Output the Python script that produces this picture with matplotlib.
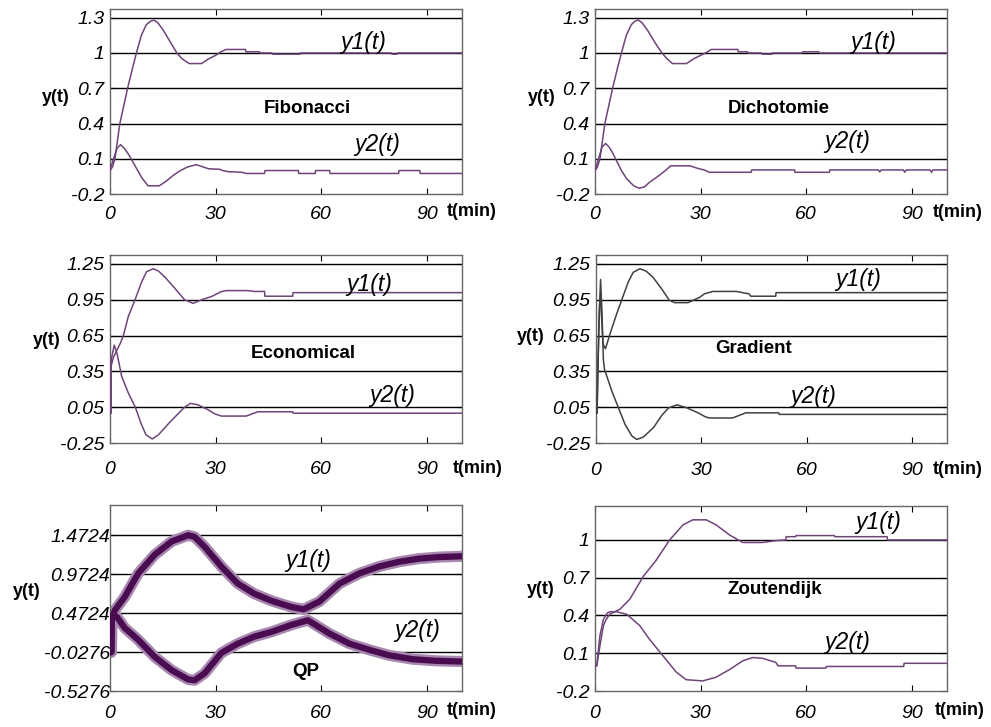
import matplotlib
matplotlib.use("Agg")
import matplotlib.pyplot as plt

plt.rcParams['font.family'] = ['Liberation Sans', 'DejaVu Sans']

# ---------------- data ----------------
# Fibonacci
fib_t1 = [0, 0.7, 1.4, 2.1, 2.8, 3.9, 5, 6.3, 7.5, 8.9, 10.3, 11.5, 12.5, 13.5, 15, 17, 19, 20.5,
          22.5, 26, 28, 30, 31.5, 33, 38.5, 38.6, 42.5, 42.6, 46, 46.1, 54, 54.1, 80, 80.1, 81.5, 81.6, 100]
fib_y1 = [0.0, 0.03, 0.1, 0.25, 0.4, 0.55, 0.7, 0.86, 1.0, 1.15, 1.24, 1.27, 1.28, 1.26, 1.2, 1.1, 1.0, 0.95,
          0.91, 0.91, 0.95, 0.98, 1.01, 1.03, 1.03, 1.01, 1.01, 1.0, 1.0, 0.99, 0.99, 1.0, 1.0, 0.99, 0.99, 1.0, 1.0]
fib_t2 = [0, 1, 2, 3, 4, 5, 6, 7.5, 9, 10.8, 14, 16, 18, 20, 22, 24.5, 26.5, 28, 31.3, 32, 33.7, 37.5,
          38.7, 43.9, 44, 53.5, 53.6, 58.3, 58.4, 62.4, 62.5, 82, 82.1, 88, 88.1, 100]
fib_y2 = [0.0, 0.1, 0.19, 0.22, 0.19, 0.15, 0.1, 0.02, -0.06, -0.13, -0.13, -0.09, -0.04, 0.0, 0.03, 0.05,
          0.03, 0.015, 0.01, 0.0, -0.01, -0.015, -0.025, -0.025, 0.0, 0.0, -0.025, -0.025, 0.0, 0.0, -0.025,
          -0.025, 0.0, 0.0, -0.025, -0.025]

# Dichotomie
dic_t1 = [0, 0.7, 1.4, 2.1, 2.8, 3.9, 5, 6.3, 7.5, 8.9, 10.3, 11.3, 12.3, 13.3, 15, 17, 19, 20.5, 22, 26,
          28, 30, 32, 33, 40.6, 40.7, 43.4, 43.5, 47.3, 47.4, 50.3, 50.4, 58.9, 59, 63.6, 63.7, 100]
dic_y1 = [0.0, 0.03, 0.1, 0.25, 0.4, 0.55, 0.7, 0.86, 1.0, 1.15, 1.24, 1.27, 1.28, 1.26, 1.19, 1.09, 1.0,
          0.95, 0.91, 0.91, 0.95, 0.98, 1.01, 1.03, 1.03, 1.01, 1.01, 1.0, 1.0, 0.99, 0.99, 1.0, 1.0, 1.01,
          1.01, 1.0, 1.0]
dic_t2 = [0, 1, 2, 3, 4, 5, 6, 7.5, 9, 11, 12.5, 14, 15.5, 18.3, 20, 21.5, 27, 29, 31, 32.5, 44.4, 44.5,
          56.7, 56.8, 66.6, 66.7, 80.5, 80.9, 81.3, 87.6, 88, 88.4, 95.2, 95.6, 96, 100]
dic_y2 = [0.0, 0.1, 0.2, 0.23, 0.2, 0.15, 0.09, 0.0, -0.07, -0.13, -0.15, -0.14, -0.1, -0.04, 0.0, 0.04,
          0.04, 0.02, 0.005, -0.015, -0.015, 0.005, 0.005, -0.015, -0.015, 0.005, 0.005, -0.012, 0.005,
          0.005, -0.015, 0.005, 0.005, -0.015, 0.005, 0.005]

# Economical
eco_t1 = [0, 0.3, 0.35, 1, 2, 3, 3.8, 5.2, 7.1, 9, 10.4, 12.3, 13.8, 15.6, 18.4, 21.2, 23.6, 26, 28.8,
          31.6, 33, 39.2, 41, 43.9, 44, 51.9, 52, 100]
eco_y1 = [0.0, 0.0, 0.40, 0.47, 0.53, 0.59, 0.65, 0.81, 0.95, 1.10, 1.186, 1.21, 1.19, 1.14, 1.047, 0.95,
          0.92, 0.95, 0.977, 1.018, 1.027, 1.027, 1.02, 1.02, 0.98, 0.98, 1.01, 1.01]
eco_t2 = [0, 0.3, 0.35, 1.2, 2, 3.3, 5.2, 7.2, 8.8, 10.2, 12, 13.8, 16.7, 19.5, 21.2, 22.9, 25, 27.8,
          29.7, 31.6, 38.7, 42, 51.9, 52, 100]
eco_y2 = [0.0, 0.0, 0.45, 0.57, 0.50, 0.31, 0.17, 0.05, -0.085, -0.18, -0.216, -0.18, -0.085, 0.0, 0.05,
          0.083, 0.07, 0.03, -0.005, -0.024, -0.024, 0.012, 0.012, 0.0, 0.0]

# Gradient
gra_t1 = [0, 0.3, 0.5, 1.0, 1.3, 1.6, 2.0, 2.7, 4.0, 5.9, 7.3, 9.2, 10.6, 12.5, 14.3, 16.2, 18.5, 20.9,
          22.4, 26.2, 29.5, 30.9, 33.3, 39.9, 43.6, 44.1, 51.2, 51.3, 100]
gra_y1 = [0.0, 0.0, 0.33, 0.9, 1.0, 0.8, 0.58, 0.54, 0.665, 0.833, 0.946, 1.10, 1.18, 1.21, 1.19, 1.14,
          1.05, 0.946, 0.926, 0.926, 0.97, 1.0, 1.02, 1.02, 1.0, 0.98, 0.98, 1.01, 1.01]
gra_t2 = [0, 0.3, 0.8, 1.3, 1.7, 2.1, 2.4, 4.5, 6.4, 8.3, 10.2, 11.6, 13.5, 16.4, 18.7, 20.7, 23.1, 25.9,
          29.3, 31.1, 32.3, 38.9, 42.7, 52.1, 52.2, 100]
gra_y2 = [0.0, 0.0, 0.7, 1.12, 0.85, 0.45, 0.37, 0.186, 0.045, -0.095, -0.19, -0.22, -0.2, -0.12, -0.02,
          0.045, 0.07, 0.045, 0.0, -0.03, -0.04, -0.04, 0.003, 0.003, -0.01, -0.01]

# QP
qp_t1 = [0, 0.4, 0.5, 1.0, 1.4, 4.2, 8, 12.7, 17.5, 22.2, 24, 26.9, 31.6, 36.3, 41, 45.8, 51.5, 55, 59.5,
         65.2, 70.8, 76.5, 82.2, 87.8, 93.5, 100]
qp_y1 = [-0.03, -0.03, 0.40, 0.47, 0.51, 0.68, 0.98, 1.22, 1.39, 1.47, 1.45, 1.32, 1.07, 0.85, 0.72, 0.63,
         0.55, 0.52, 0.62, 0.85, 0.98, 1.07, 1.13, 1.17, 1.19, 1.2]
qp_t2 = [0, 0.4, 0.5, 1.2, 2, 4.2, 8, 12.7, 17.5, 22.2, 24, 26.9, 31.6, 36.3, 41, 45.8, 51.5, 56.2, 62.3,
         68, 73.7, 79.3, 86, 92.5, 100]
qp_y2 = [-0.03, -0.03, 0.40, 0.44, 0.42, 0.28, 0.13, -0.09, -0.26, -0.38, -0.39, -0.30, -0.04, 0.08, 0.17,
         0.23, 0.32, 0.38, 0.21, 0.08, 0.0, -0.07, -0.12, -0.14, -0.15]

# Zoutendijk
zou_t1 = [0, 0.5, 1.4, 2.4, 3.2, 4.2, 7.1, 9.9, 13.7, 17.4, 21.2, 25, 27.8, 31.6, 34.4, 38.2, 42, 47.6,
          51.4, 54.2, 54.3, 57, 57.1, 68, 68.1, 83, 83.1, 100]
zou_y1 = [0.0, 0.0, 0.16, 0.32, 0.37, 0.41, 0.45, 0.53, 0.71, 0.84, 1.0, 1.12, 1.16, 1.16, 1.12, 1.04,
          0.98, 0.98, 0.995, 1.0, 1.026, 1.026, 1.035, 1.035, 1.026, 1.026, 1.0, 1.0]
zou_t2 = [0, 0.5, 1.4, 2.4, 3.5, 4.2, 6.1, 9, 12.7, 15.5, 19.3, 23.1, 25.9, 30.6, 34.4, 38.2, 42, 44.8,
          47.6, 51.4, 52, 57, 57.1, 65.6, 65.7, 87.7, 87.8, 100]
zou_y2 = [0.0, 0.0, 0.24, 0.37, 0.42, 0.43, 0.43, 0.41, 0.32, 0.21, 0.08, -0.05, -0.11, -0.12, -0.09, -0.03,
          0.04, 0.066, 0.06, 0.027, 0.0, 0.0, -0.018, -0.018, -0.005, -0.005, 0.02, 0.02]

x_ticks = [0, 30, 60, 90]
ticks_a = [-0.2, 0.1, 0.4, 0.7, 1, 1.3]
labels_a = ["-0.2", "0.1", "0.4", "0.7", "1", "1.3"]
ticks_b = [-0.25, 0.05, 0.35, 0.65, 0.95, 1.25]
labels_b = ["-0.25", "0.05", "0.35", "0.65", "0.95", "1.25"]
ticks_qp = [-0.5276, -0.0276, 0.4724, 0.9724, 1.4724]
labels_qp = ["-0.5276", "-0.0276", "0.4724", "0.9724", "1.4724"]
ticks_z = [-0.2, 0.1, 0.4, 0.7, 1]
labels_z = ["-0.2", "0.1", "0.4", "0.7", "1"]

PURPLE = '#6e4479'

panels = [
    dict(rect=[0.1110, 0.7331, 0.3552, 0.2545], t1=fib_t1, y1=fib_y1, t2=fib_t2, y2=fib_y2,
         ticks=ticks_a, labels=labels_a, ylim=(-0.2, 1.374), name="Fibonacci", name_xy=(56, 0.53),
         y1_xy=(72, 1.09), y2_xy=(76, 0.22), ylab=(-0.153, 0.524), tmin=(0.957, -0.095), xpad=8.5, ypad=4),
    dict(rect=[0.6004, 0.7331, 0.3552, 0.2545], t1=dic_t1, y1=dic_y1, t2=dic_t2, y2=dic_y2,
         ticks=ticks_a, labels=labels_a, ylim=(-0.2, 1.374), name="Dichotomie", name_xy=(52.3, 0.53),
         y1_xy=(79, 1.09), y2_xy=(71.6, 0.245), ylab=(-0.15, 0.524), tmin=(0.96, -0.1), xpad=8.5, ypad=4),
    dict(rect=[0.1110, 0.3906, 0.3552, 0.2586], t1=eco_t1, y1=eco_y1, t2=eco_t2, y2=eco_y2,
         ticks=ticks_b, labels=labels_b, ylim=(-0.25, 1.325), name="Economical", name_xy=(54.8, 0.50),
         y1_xy=(73.7, 1.074), y2_xy=(80.3, 0.152), ylab=(-0.18, 0.548), tmin=(0.974, -0.137), xpad=13, ypad=4),
    dict(rect=[0.6014, 0.3906, 0.3542, 0.2586], t1=gra_t1, y1=gra_y1, t2=gra_t2, y2=gra_y2,
         ticks=ticks_b, labels=labels_b, ylim=(-0.25, 1.325), name="Gradient", name_xy=(45, 0.538),
         y1_xy=(74.8, 1.12), y2_xy=(62, 0.144), ylab=(-0.185, 0.566), tmin=(0.96, -0.14), xpad=14, ypad=4,
         color='#404040'),
    dict(rect=[0.1110, 0.0495, 0.3552, 0.2558], t1=qp_t1, y1=qp_y1, t2=qp_t2, y2=qp_y2,
         ticks=ticks_qp, labels=labels_qp, ylim=(-0.5276, 1.857), name="QP", name_xy=(55.5, -0.28),
         y1_xy=(56.2, 1.15), y2_xy=(87.3, 0.254), ylab=(-0.236, 0.534), tmin=(0.957, -0.105), xpad=10, ypad=0,
         thick=True),
    dict(rect=[0.6004, 0.0495, 0.3552, 0.2545], t1=zou_t1, y1=zou_y1, t2=zou_t2, y2=zou_y2,
         ticks=ticks_z, labels=labels_z, ylim=(-0.2, 1.27), name="Zoutendijk", name_xy=(51.2, 0.605),
         y1_xy=(80.6, 1.137), y2_xy=(71.6, 0.185), ylab=(-0.154, 0.546), tmin=(0.966, -0.105), xpad=10, ypad=4),
]

fig = plt.figure(figsize=(9.91, 7.27), dpi=100)

for p in panels:
    ax = fig.add_axes(p['rect'])
    ax.set_xlim(0, 100)
    ax.set_ylim(*p['ylim'])

    # horizontal reference lines at each y tick
    for v in p['ticks'][1:]:
        ax.axhline(v, color='black', lw=1.0, zorder=1)

    if p.get('thick'):
        for t, y in ((p['t1'], p['y1']), (p['t2'], p['y2'])):
            ax.plot(t, y, color='#a888b0', lw=8, solid_capstyle='butt', zorder=2)
            ax.plot(t, y, color='#4a0c50', lw=4.5, zorder=3)
    else:
        c = p.get('color', PURPLE)
        ax.plot(p['t1'], p['y1'], color=c, lw=1.1, zorder=3)
        ax.plot(p['t2'], p['y2'], color=c, lw=1.1, zorder=3)

    ax.set_xticks(x_ticks)
    ax.set_xticklabels([str(x) for x in x_ticks])
    ax.set_yticks(p['ticks'])
    ax.set_yticklabels(p['labels'])
    ax.tick_params(axis='x', direction='in', top=True, length=4, pad=p['xpad'], labelsize=14)
    ax.tick_params(axis='y', direction='in', right=True, length=4, pad=p['ypad'], labelsize=14)
    for lab in ax.get_xticklabels() + ax.get_yticklabels():
        lab.set_fontstyle('italic')

    for s in ax.spines.values():
        s.set_color('#666666')
        s.set_linewidth(1.0)

    ax.text(*p['name_xy'], p['name'], fontsize=13.5, fontweight='bold', ha='center', va='center')
    ax.text(*p['y1_xy'], "y1(t)", fontsize=16.5, fontstyle='italic', ha='center', va='center')
    ax.text(*p['y2_xy'], "y2(t)", fontsize=16.5, fontstyle='italic', ha='center', va='center')
    ax.text(*p['ylab'], "y(t)", transform=ax.transAxes, fontsize=13, fontweight='bold',
            ha='center', va='center')
    ax.text(*p['tmin'], "t(min)", transform=ax.transAxes, fontsize=13, fontweight='bold',
            ha='left', va='center', clip_on=False)

fig.savefig("out.png", dpi=100)
